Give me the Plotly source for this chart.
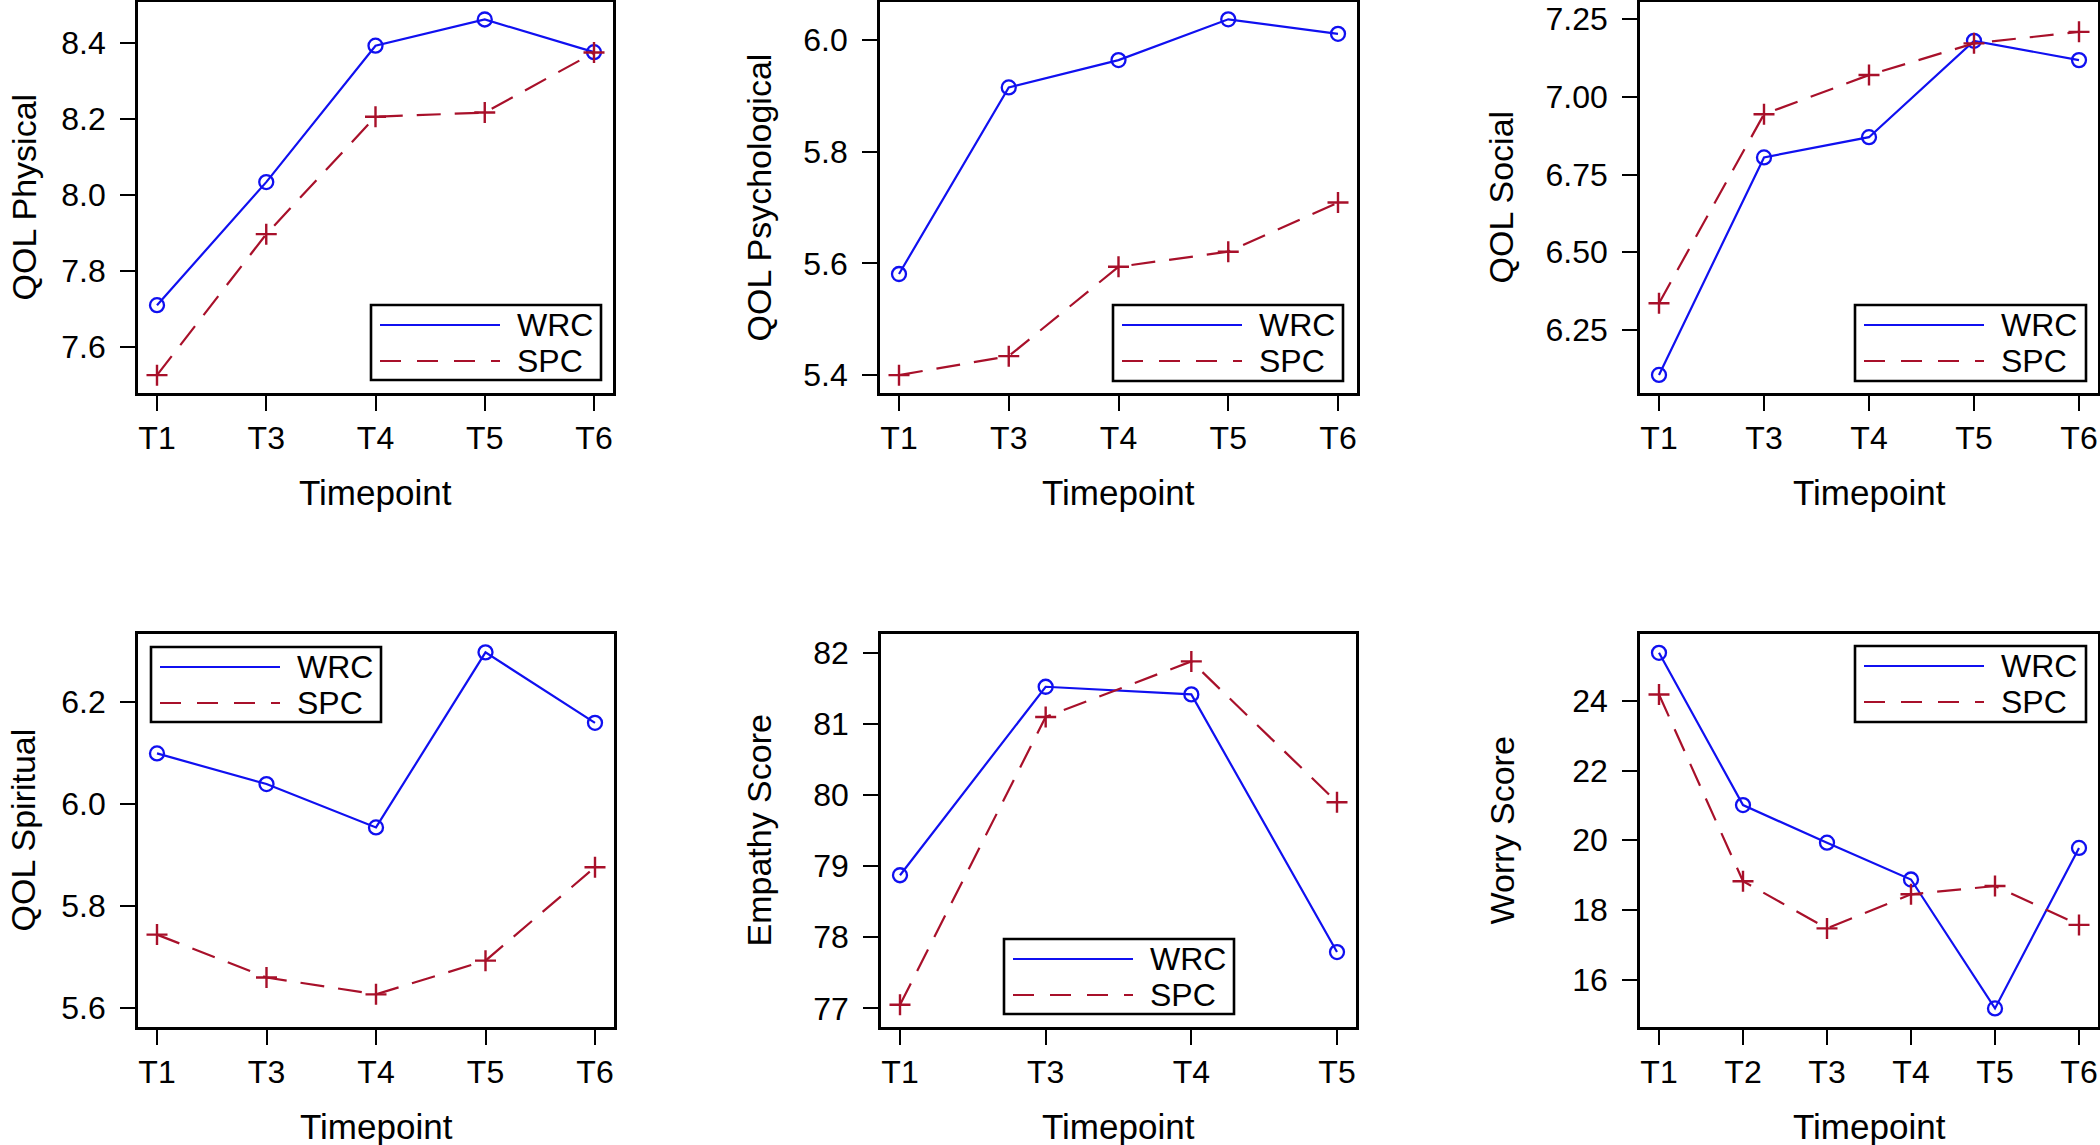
import plotly.graph_objects as go

W, H = 2100, 1145

# ---------------- data ----------------
tp_qol = ["T1", "T3", "T4", "T5", "T6"]
tp_empathy = ["T1", "T3", "T4", "T5"]
tp_worry = ["T1", "T2", "T3", "T4", "T5", "T6"]

physical_wrc = [7.710, 8.034, 8.393, 8.462, 8.376]
physical_spc = [7.526, 7.897, 8.206, 8.217, 8.375]
psych_wrc = [5.581, 5.915, 5.964, 6.037, 6.011]
psych_spc = [5.400, 5.434, 5.594, 5.621, 5.709]
social_wrc = [6.105, 6.805, 6.870, 7.180, 7.118]
social_spc = [6.336, 6.944, 7.070, 7.172, 7.209]
spiritual_wrc = [6.099, 6.039, 5.954, 6.297, 6.159]
spiritual_spc = [5.744, 5.660, 5.627, 5.693, 5.876]
empathy_wrc = [78.872, 81.522, 81.415, 77.792]
empathy_spc = [77.05, 81.097, 81.879, 79.899]
worry_wrc = [25.377, 21.007, 19.928, 18.872, 15.174, 19.779]
worry_spc = [24.18, 18.824, 17.469, 18.448, 18.686, 17.570]

series_names = ["WRC", "SPC"]
y_titles = ["QOL Physical", "QOL Psychological", "QOL Social",
            "QOL Spiritual", "Empathy Score", "Worry Score"]
x_title = "Timepoint"

# ---------------- styling / layout ----------------
BLUE = "#1010F0"
RED = "#A8102A"
FONT = "Liberation Sans, Arial, Helvetica, sans-serif"
DASH = "24px,14px"

panels = [
    dict(cats=tp_qol, wrc=physical_wrc, spc=physical_spc, yr=[7.479, 8.508], dtick=0.2, fmt=".1f",
         box=(138, 2, 613, 393), leg=(371, 305, 601, 380), ytx=23),
    dict(cats=tp_qol, wrc=psych_wrc, spc=psych_spc, yr=[5.368, 6.068], dtick=0.2, fmt=".1f",
         box=(880, 2, 1357, 393), leg=(1113, 305, 1343, 381), ytx=758),
    dict(cats=tp_qol, wrc=social_wrc, spc=social_spc, yr=[6.047, 7.305], dtick=0.25, fmt=".2f",
         box=(1640, 2, 2098, 393), leg=(1855, 305, 2086, 381), ytx=1500),
    dict(cats=tp_qol, wrc=spiritual_wrc, spc=spiritual_spc, yr=[5.563, 6.333], dtick=0.2, fmt=".1f",
         box=(138, 634, 614, 1027), leg=(151, 647, 381, 722), ytx=23),
    dict(cats=tp_empathy, wrc=empathy_wrc, spc=empathy_spc, yr=[76.738, 82.264], dtick=1, fmt="d",
         box=(881, 634, 1356, 1027), leg=(1004, 939, 1234, 1014), ytx=759),
    dict(cats=tp_worry, wrc=worry_wrc, spc=worry_spc, yr=[14.640, 25.917], dtick=2, fmt="d",
         box=(1640, 634, 2098, 1027), leg=(1855, 646, 2086, 722), ytx=1502),
]


def px(x):
    return x / W


def py(y):
    return 1 - y / H


fig = go.Figure()
layout = dict(width=W, height=H, margin=dict(l=0, r=0, t=0, b=0),
              paper_bgcolor="white", plot_bgcolor="white", showlegend=False,
              font=dict(family=FONT, color="black"))
shapes = []
annotations = []

for i, p in enumerate(panels, start=1):
    xa = "x" if i == 1 else f"x{i}"
    ya = "y" if i == 1 else f"y{i}"
    x0, y0, x1, y1 = p["box"]
    n = len(p["cats"])
    pad_px = 19
    spacing = (x1 - x0 - 2 * pad_px) / (n - 1)
    pad = pad_px / spacing

    fig.add_trace(go.Scatter(
        x=p["cats"], y=p["wrc"], name=series_names[0], mode="lines+markers",
        xaxis=xa, yaxis=ya,
        line=dict(color=BLUE, width=2.2),
        marker=dict(symbol="circle-open", size=14, color=BLUE, line=dict(width=2.3, color=BLUE)),
    ))
    fig.add_trace(go.Scatter(
        x=p["cats"], y=p["spc"], name=series_names[1], mode="lines+markers",
        xaxis=xa, yaxis=ya,
        line=dict(color=RED, width=2.2, dash=DASH),
        marker=dict(symbol="cross-thin", size=15, color=RED, line=dict(width=2.4, color=RED)),
    ))

    axis_common = dict(showline=True, linecolor="black", linewidth=2.6, mirror=True,
                       ticks="outside", ticklen=15, tickwidth=2.4, tickcolor="black",
                       showgrid=False, zeroline=False,
                       tickfont=dict(family=FONT, size=32, color="black"))
    xkey = "xaxis" if i == 1 else f"xaxis{i}"
    ykey = "yaxis" if i == 1 else f"yaxis{i}"
    layout[xkey] = dict(axis_common, type="category", categoryorder="array",
                        categoryarray=p["cats"], range=[-pad, n - 1 + pad],
                        domain=[px(x0), px(x1)], anchor=ya, ticklabelstandoff=0)
    layout[ykey] = dict(axis_common, range=p["yr"], tickmode="linear", dtick=p["dtick"],
                        tickformat=p["fmt"], domain=[py(y1), py(y0)], anchor=xa,
                        ticklabelstandoff=8)

    # axis titles
    annotations.append(dict(text=y_titles[i - 1], textangle=-90, x=px(p["ytx"]),
                            y=py((y0 + y1) / 2), xref="paper", yref="paper",
                            xanchor="center", yanchor="middle", showarrow=False,
                            borderpad=0,
                            font=dict(family=FONT, size=34, color="black")))
    annotations.append(dict(text=x_title, x=px((x0 + x1) / 2), y=py(y1 + 99),
                            xref="paper", yref="paper", xanchor="center", yanchor="middle",
                            showarrow=False, font=dict(family=FONT, size=35, color="black")))

    # legend box (drawn manually to get long line samples)
    lx0, ly0, lx1, ly1 = p["leg"]
    shapes.append(dict(type="rect", xref="paper", yref="paper",
                       x0=px(lx0), x1=px(lx1), y0=py(ly1), y1=py(ly0),
                       line=dict(color="black", width=2.6), fillcolor="white", layer="above"))
    for k, (nm, col, dash) in enumerate([(series_names[0], BLUE, "solid"),
                                          (series_names[1], RED, "21px,16px")]):
        yy = ly0 + 20 + 36 * k
        shapes.append(dict(type="line", xref="paper", yref="paper",
                           x0=px(lx0 + 9), x1=px(lx0 + 129), y0=py(yy), y1=py(yy),
                           line=dict(color=col, width=2.2, dash=dash), layer="above"))
        annotations.append(dict(text=nm, x=px(lx0 + 144), y=py(yy), xref="paper", yref="paper",
                                xanchor="left", yanchor="middle", showarrow=False,
                                font=dict(family=FONT, size=32, color="black")))

layout["shapes"] = shapes
layout["annotations"] = annotations
fig.update_layout(**layout)
fig.write_html("out.html", config={"displayModeBar": False},
               post_script="document.body.style.margin='0';document.body.style.overflow='hidden';")
